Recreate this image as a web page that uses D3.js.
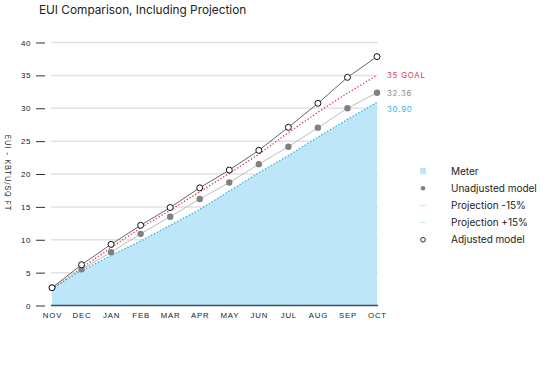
<!DOCTYPE html>
<html>
<head>
<meta charset="utf-8">
<script src="https://cdn.jsdelivr.net/npm/d3@7"></script>
<style>
  body { margin: 0; background: #fff; }
  svg { display: block; font-family: "Inter", "Noto Sans", sans-serif; }
</style>
</head>
<body>
<div id="viz"></div>
<script>
const WIDTH = 551, HEIGHT = 367;

const months = ["NOV", "DEC", "JAN", "FEB", "MAR", "APR", "MAY", "JUN", "JUL", "AUG", "SEP", "OCT"];
const meter = [2.6, 5.3, 7.6, 9.8, 12.2, 14.6, 17.4, 20.2, 22.8, 25.6, 28.3, 30.9];
const unadjusted = [2.7, 5.5, 8.1, 10.9, 13.5, 16.2, 18.7, 21.5, 24.15, 27.05, 30.0, 32.36];
const adjusted = [2.7, 6.2, 9.3, 12.2, 14.9, 17.9, 20.6, 23.6, 27.1, 30.75, 34.7, 37.85];
const goal = [2.5, 5.7, 8.8, 11.8, 14.5, 17.3, 20.1, 23.0, 26.3, 29.4, 32.3, 35.0];
const yTicks = [0, 5, 10, 15, 20, 25, 30, 35, 40];
const legendItems = ["Meter", "Unadjusted model", "Projection -15%", "Projection +15%", "Adjusted model"];

const COLORS = {
  area: "#bde6f8",
  meterLine: "#2aaed8",
  goal: "#d93a4e",
  gray: "#808080",
  grayLine: "#bdbdbd",
  adjLine: "#555",
  grid: "#e2e2e2",
  axis: "#3d4b5c",
  text: "#222"
};

const svg = d3.select("#viz").append("svg")
  .attr("width", WIDTH)
  .attr("height", HEIGHT);

const x = d3.scalePoint().domain(months).range([52, 377]);
const y = d3.scaleLinear().domain([0, 40]).range([305.5, 42.5]);

// gridlines
svg.append("g")
  .selectAll("line")
  .data(yTicks.filter(d => d > 0))
  .join("line")
  .attr("x1", 51).attr("x2", 378)
  .attr("y1", d => y(d)).attr("y2", d => y(d))
  .attr("stroke", COLORS.grid)
  .attr("stroke-width", 1.5);

// y axis: labels + short dashes
const yAxis = svg.append("g").attr("transform", "translate(45,0)")
  .call(d3.axisLeft(y).tickValues(yTicks).tickSize(9).tickPadding(5));
yAxis.select(".domain").remove();
yAxis.selectAll(".tick line").attr("stroke", "#333").attr("stroke-width", 1);
yAxis.selectAll(".tick text")
  .attr("fill", COLORS.text)
  .style("font-size", "8px")
  .style("letter-spacing", "0.6px");

svg.append("text")
  .attr("transform", `translate(5,173) rotate(90)`)
  .attr("text-anchor", "middle")
  .attr("fill", COLORS.text)
  .style("font-size", "7.5px")
  .style("letter-spacing", "0.8px")
  .text("EUI - KBTU/SQ FT");

// meter area
svg.append("path")
  .datum(meter)
  .attr("fill", COLORS.area)
  .attr("d", d3.area()
    .x((d, i) => x(months[i]))
    .y0(y(0))
    .y1(d => y(d)));

svg.append("path")
  .datum(meter)
  .attr("fill", "none")
  .attr("stroke", COLORS.meterLine)
  .attr("stroke-width", 1.3)
  .attr("stroke-dasharray", "1.3,2")
  .attr("d", d3.line().x((d, i) => x(months[i])).y(d => y(d)));

// x axis
const xAxis = svg.append("g").attr("transform", `translate(0,${y(0)})`)
  .call(d3.axisBottom(x).tickSize(0).tickPadding(7));
xAxis.select(".domain")
  .attr("d", `M51,0H378`)
  .attr("stroke", COLORS.axis)
  .attr("stroke-width", 1.5);
xAxis.selectAll(".tick text")
  .attr("fill", COLORS.text)
  .style("font-size", "7.8px")
  .style("letter-spacing", "0.8px");

// goal line
svg.append("path")
  .datum(goal)
  .attr("fill", "none")
  .attr("stroke", COLORS.goal)
  .attr("stroke-width", 1.3)
  .attr("stroke-dasharray", "1.3,2")
  .attr("d", d3.line().x((d, i) => x(months[i])).y(d => y(d)));

// unadjusted model
svg.append("path")
  .datum(unadjusted)
  .attr("fill", "none")
  .attr("stroke", COLORS.grayLine)
  .attr("stroke-width", 1)
  .attr("d", d3.line().x((d, i) => x(months[i])).y(d => y(d)));
svg.append("g").selectAll("circle")
  .data(unadjusted)
  .join("circle")
  .attr("cx", (d, i) => x(months[i]))
  .attr("cy", d => y(d))
  .attr("r", 3.2)
  .attr("fill", COLORS.gray);

// adjusted model
svg.append("path")
  .datum(adjusted)
  .attr("fill", "none")
  .attr("stroke", COLORS.adjLine)
  .attr("stroke-width", 0.9)
  .attr("d", d3.line().x((d, i) => x(months[i])).y(d => y(d)));
svg.append("g").selectAll("circle")
  .data(adjusted)
  .join("circle")
  .attr("cx", (d, i) => x(months[i]))
  .attr("cy", d => y(d))
  .attr("r", 3)
  .attr("fill", "#fff")
  .attr("stroke", "#111")
  .attr("stroke-width", 1);

// end labels
const endLabels = [
  { v: goal[goal.length - 1], text: "35 GOAL", color: COLORS.goal },
  { v: unadjusted[unadjusted.length - 1], text: "32.36", color: "#8a8a8a" },
  { v: meter[meter.length - 1], text: "30.90", color: "#2db6e4" }
];
svg.append("g").selectAll("text")
  .data(endLabels)
  .join("text")
  .attr("x", 387)
  .attr("y", (d, i) => y(d.v) + [3, 3, 10][i])
  .attr("fill", d => d.color)
  .style("font-size", "7.8px")
  .style("letter-spacing", "0.8px")
  .text(d => d.text);

// title
svg.append("text")
  .attr("x", 39)
  .attr("y", 14)
  .attr("fill", COLORS.text)
  .style("font-size", "11.8px")
  .text("EUI Comparison, Including Projection");

// legend
const legend = svg.append("g").attr("transform", "translate(423,171)");
legendItems.forEach((name, i) => {
  const g = legend.append("g").attr("transform", `translate(0,${i * 17.2})`);
  if (i === 0) {
    g.append("rect").attr("x", -3).attr("y", -3).attr("width", 6).attr("height", 6)
      .attr("fill", COLORS.area);
  } else if (i === 1) {
    g.append("circle").attr("r", 2.3).attr("fill", COLORS.gray);
  } else if (i === 4) {
    g.append("circle").attr("r", 2.3).attr("fill", "#fff")
      .attr("stroke", "#111").attr("stroke-width", 0.9);
  } else {
    g.append("line").attr("x1", -3).attr("x2", 4).attr("y1", 0).attr("y2", 0)
      .attr("stroke", "#7cc9e6").attr("stroke-width", 1)
      .attr("stroke-dasharray", "1,1.5");
  }
  g.append("text")
    .attr("x", 28)
    .attr("y", 3.5)
    .attr("fill", COLORS.text)
    .style("font-size", "10px")
    .text(name);
});
</script>
</body>
</html>
